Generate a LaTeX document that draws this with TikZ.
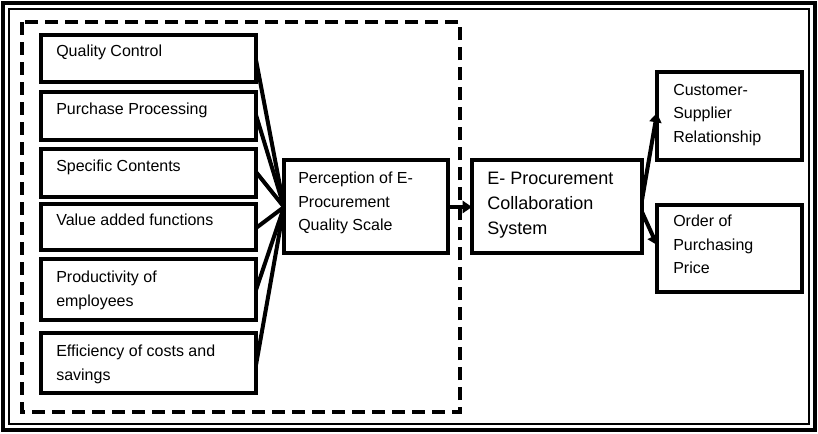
\documentclass[tikz,border=0pt]{standalone}
\usepackage{fontspec}
\setmainfont{Liberation Sans}
\usetikzlibrary{arrows.meta}
\begin{document}
\begin{tikzpicture}[x=0.75pt,y=-0.75pt,
  bxl/.style={line width=3pt},
  lbl/.style={anchor=north west,align=left,inner sep=0pt,font=\fontsize{12}{17.5}\selectfont},
  conn/.style={line width=3pt,-{Triangle[length=7pt,width=9pt]}}]
\useasboundingbox (0,0) rectangle (818,433);
\fill[white] (0,0) rectangle (818,433);
\draw[line width=2.5pt] (3,3) rectangle (815,430);
\draw[line width=1pt] (9,9) rectangle (809,424);
\draw[line width=3pt,dash pattern=on 10pt off 5pt] (22,22) rectangle (460,412);
% left boxes
\draw[bxl] (41,35) rectangle (256,82);
\node[lbl] (q) at (56,45) {Quality Control};
\draw[bxl] (41,92) rectangle (256,140);
\node[lbl] (p) at (56,103) {Purchase Processing};
\draw[bxl] (41,149) rectangle (256,197);
\node[lbl] (s) at (56,160) {Specific Contents};
\draw[bxl] (41,204) rectangle (256,250);
\node[lbl] (v) at (56,214) {Value added functions};
\draw[bxl] (41,259) rectangle (256,320);
\node[lbl] (pe) at (56,271) {Productivity of\\employees};
\draw[bxl] (41,333) rectangle (256,393);
\node[lbl] (e) at (56,345) {Efficiency of costs and\\savings};
% center
\draw[bxl] (284,160) rectangle (448,253);
\node[lbl] (c) at (298,172) {Perception of E-\\Procurement\\Quality Scale};
\draw[bxl] (472,160) rectangle (642,253);
\node[lbl,font=\fontsize{13.5}{18.8}\selectfont] (ep) at (487,172) {E- Procurement\\Collaboration\\System};
\draw[bxl] (657,72) rectangle (802,160);
\node[lbl] (cs) at (673,84) {Customer-\\Supplier\\Relationship};
\draw[bxl] (657,205) rectangle (802,292);
\node[lbl] (o) at (673,215) {Order of\\Purchasing\\Price};
\coordinate (cin) at (284,207);
\foreach \y in {60,115,172,228,290,365}{
  \draw[bxl] (256,\y) -- (cin);
}
\draw[conn] (448,207) -- (472,207);
\draw[conn] (642,200) -- (657,113);
\draw[conn] (642,212) -- (657,245);
\end{tikzpicture}
\end{document}
